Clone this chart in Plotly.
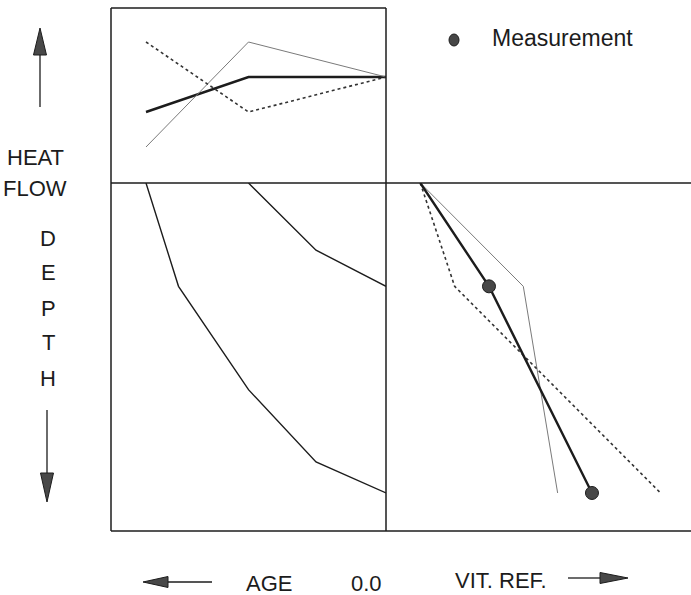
import plotly.graph_objects as go

# Heat-flow histories (mW/m2) at three ages (Ma); present day at the right
hf_age = [96, 55, 0]
hf_best = [46, 60, 60]
hf_warm = [32, 74, 60]
hf_cool = [74, 46, 60]

# Burial history of two horizons: age (Ma) vs depth (m)
deep_age = [96, 83, 55, 28, 0]
deep_depth = [0, 1000, 2000, 2700, 3000]
shallow_age = [55, 28, 0]
shallow_depth = [0, 650, 1000]

# Modelled vitrinite reflectance (%Ro) at surface and the two horizons
vr_depth = [0, 1000, 3000]
vr_best = [0.2, 0.6, 1.2]
vr_warm = [0.2, 0.8, 1.0]
vr_cool = [0.2, 0.4, 1.6]

# Measured vitrinite reflectance
meas_depth = [1000, 3000]
meas_vr = [0.6, 1.2]

W, H = 691, 595
INK = "#1c1c1c"
THIN = "#7a7a7a"
FONT = "Liberation Sans, Arial, sans-serif"
FS = 22


def px(x):
    return x / W


def py(y):
    return 1 - y / H


thick = dict(color=INK, width=2.4)
thin = dict(color=THIN, width=1)
dotted = dict(color="#333333", width=1.6, dash="dot")

fig = go.Figure()

# Heat-flow panel
fig.add_trace(go.Scatter(x=hf_age, y=hf_best, mode="lines", line=thick, xaxis="x", yaxis="y"))
fig.add_trace(go.Scatter(x=hf_age, y=hf_warm, mode="lines", line=thin, xaxis="x", yaxis="y"))
fig.add_trace(go.Scatter(x=hf_age, y=hf_cool, mode="lines", line=dotted, xaxis="x", yaxis="y"))

# Burial panel
burial = dict(color=INK, width=1.4)
fig.add_trace(go.Scatter(x=deep_age, y=deep_depth, mode="lines", line=burial, xaxis="x2", yaxis="y2"))
fig.add_trace(go.Scatter(x=shallow_age, y=shallow_depth, mode="lines", line=burial, xaxis="x2", yaxis="y2"))

# Vitrinite reflectance panel
fig.add_trace(go.Scatter(x=vr_warm, y=vr_depth, mode="lines", line=thin, xaxis="x3", yaxis="y3"))
fig.add_trace(go.Scatter(x=vr_cool, y=vr_depth, mode="lines", line=dotted, xaxis="x3", yaxis="y3"))
fig.add_trace(go.Scatter(x=vr_best, y=vr_depth, mode="lines", line=thick, xaxis="x3", yaxis="y3"))
fig.add_trace(go.Scatter(x=meas_vr, y=meas_depth, mode="markers",
                         marker=dict(size=13, color="#474747", line=dict(color=INK, width=1)),
                         xaxis="x3", yaxis="y3", cliponaxis=False))

ax_common = dict(showgrid=False, zeroline=False, showticklabels=False, ticks="",
                 showline=False)

L, M, R = 111, 386, 691
T, MID, B = 8, 183, 531

left_dom = [px(L), px(M)]
right_dom = [px(M), 1.0]
top_dom = [py(MID), py(T)]
low_dom = [py(B), py(MID)]

depth_range = [3368, 0]
age_range = [110, 0]

fig.update_layout(
    width=W, height=H,
    margin=dict(l=0, r=0, t=0, b=0),
    paper_bgcolor="white", plot_bgcolor="rgba(0,0,0,0)",
    showlegend=False,
    font=dict(family=FONT, color=INK, size=FS),
    xaxis=dict(domain=left_dom, range=age_range, anchor="y", **ax_common),
    yaxis=dict(domain=top_dom, range=[17.6, 87.6], anchor="x", **ax_common),
    xaxis2=dict(domain=left_dom, range=age_range, anchor="y2", **ax_common),
    yaxis2=dict(domain=low_dom, range=depth_range, anchor="x2", **ax_common),
    xaxis3=dict(domain=right_dom, range=[0, 1.777], anchor="y3", **ax_common),
    yaxis3=dict(domain=low_dom, range=depth_range, anchor="x3", **ax_common),
)

shapes = []
annotations = []
HEAD = "#484848"
frame = dict(color=INK, width=1.5)


def rule(x0, y0, x1, y1):
    shapes.append(dict(type="line", xref="paper", yref="paper", layer="above",
                       x0=px(x0), y0=py(y0), x1=px(x1), y1=py(y1), line=frame))


# Panel frames
rule(L, T, M, T)
rule(L, MID, R, MID)
rule(L, B, R, B)
rule(L, T, L, B)
rule(M, T, M, B)


def arrow(x0, y0, x1, y1, head_len, head_half):
    """Shaft from (x0,y0) to the tip (x1,y1), in pixels, with a filled head."""
    dx, dy = x1 - x0, y1 - y0
    n = (dx * dx + dy * dy) ** 0.5
    ux, uy = dx / n, dy / n
    bx, by = x1 - ux * head_len, y1 - uy * head_len
    shapes.append(dict(type="line", xref="paper", yref="paper",
                       x0=px(x0), y0=py(y0), x1=px(bx), y1=py(by),
                       line=dict(color=INK, width=1.3)))
    pts = [(x1, y1), (bx - uy * head_half, by + ux * head_half),
           (bx + uy * head_half, by - ux * head_half)]
    path = "M " + " L ".join(f"{px(a):.5f},{py(b):.5f}" for a, b in pts) + " Z"
    shapes.append(dict(type="path", xref="paper", yref="paper", path=path,
                       fillcolor=HEAD, line=dict(color=INK, width=1)))


arrow(40, 107, 40, 28, 27, 6.5)     # heat flow increases upward
arrow(47, 410, 47, 502, 29, 6.5)    # depth increases downward
arrow(212, 582, 143, 582, 25, 5.5)  # age increases to the left
arrow(568, 578, 628, 578, 28, 5.5)  # reflectance increases to the right


def label(text, x, y, xanchor="center", size=FS):
    annotations.append(dict(text=text, x=px(x), y=py(y), xref="paper", yref="paper",
                            showarrow=False, xanchor=xanchor, yanchor="middle",
                            font=dict(family=FONT, size=size, color=INK)))


label("HEAT", 35, 158)
label("FLOW", 35, 188)
for ch, yy in zip("DEPTH", [238, 273, 308, 343, 378]):
    label(ch, 48, yy)
label("AGE", 269, 583)
label("0.0", 366, 583)
label("VIT. REF.", 501, 580)

# Key for the measurement symbol
shapes.append(dict(type="circle", xref="paper", yref="paper",
                   x0=px(449), x1=px(459), y0=py(34), y1=py(46),
                   fillcolor="#474747", line=dict(color=INK, width=1)))
label("Measurement", 490, 38, xanchor="left", size=23)

fig.update_layout(shapes=shapes, annotations=annotations)

fig.write_html("out.html")
